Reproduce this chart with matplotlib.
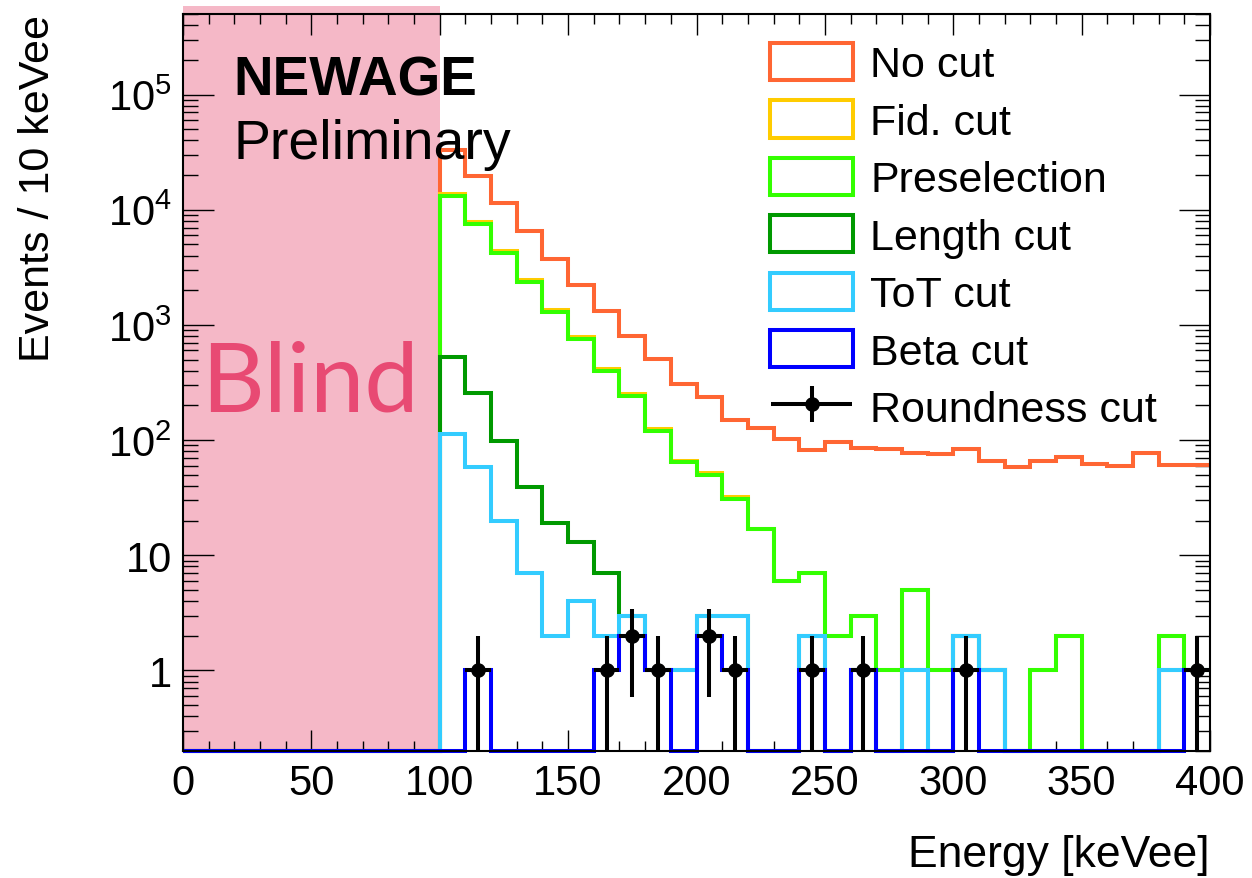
import numpy as np
import matplotlib
matplotlib.use("Agg")
import matplotlib.pyplot as plt
from matplotlib.patches import Patch
from matplotlib.container import ErrorbarContainer
from matplotlib.legend_handler import HandlerErrorbar
from matplotlib.ticker import FixedLocator, FixedFormatter, MultipleLocator

plt.rcParams['font.family'] = ['Liberation Sans', 'DejaVu Sans']
plt.rcParams['mathtext.fontset'] = 'custom'
plt.rcParams['mathtext.rm'] = 'Liberation Sans'
plt.rcParams['mathtext.it'] = 'Liberation Sans:italic'
plt.rcParams['mathtext.bf'] = 'Liberation Sans:bold'

# 10 keVee bins from 0 to 400; everything below 100 keVee is blind (empty)
edges = np.arange(0, 410, 10)
n_blind = 10

no_cut = [32900, 19600, 11400, 6540, 3770, 2230, 1320, 805, 505, 307,
          235, 150, 127, 102, 82, 97, 86, 83, 77, 76,
          83, 66, 58, 66, 72, 62, 60, 77, 61, 61]
fid_cut = [13700, 7880, 4420, 2430, 1335, 783, 416, 252, 126, 66,
           52, 32, 17, 6, 7, 2, 3, 1, 5, 1,
           2, 1, 0, 1, 2, 0, 0, 0, 2, 1]
preselection = [13150, 7570, 4250, 2335, 1283, 753, 400, 243, 121, 64,
                50, 31, 17, 6, 7, 2, 3, 1, 5, 1,
                2, 1, 0, 1, 2, 0, 0, 0, 2, 1]
length_cut = [530, 255, 99, 39, 19, 13, 7, 3, 1, 1,
              3, 3, 0, 0, 2, 0, 1, 0, 1, 0,
              2, 1, 0, 0, 0, 0, 0, 0, 1, 1]
tot_cut = [113, 58, 20, 7, 2, 4, 2, 3, 1, 1,
           3, 3, 0, 0, 2, 0, 1, 0, 1, 0,
           2, 1, 0, 0, 0, 0, 0, 0, 1, 1]
beta_cut = [0, 1, 0, 0, 0, 0, 1, 2, 1, 0,
            2, 1, 0, 0, 1, 0, 1, 0, 0, 0,
            1, 0, 0, 0, 0, 0, 0, 0, 0, 1]
roundness_cut = [0, 1, 0, 0, 0, 0, 1, 2, 1, 0,
                 2, 1, 0, 0, 1, 0, 1, 0, 0, 0,
                 1, 0, 0, 0, 0, 0, 0, 0, 0, 1]

labels = ['No cut', 'Fid. cut', 'Preselection', 'Length cut', 'ToT cut', 'Beta cut']
colors = ['#ff6633', '#ffcc00', '#33ff00', '#009900', '#33ccff', '#0000ff']
hists = [no_cut, fid_cut, preselection, length_cut, tot_cut, beta_cut]

ymin, ymax = 0.2, 5e5
W, H = 1252, 879

fig = plt.figure(figsize=(W / 100, H / 100), dpi=100)
ax = fig.add_axes([183 / W, 1 - 752 / H, (1210 - 183) / W, (752 - 15) / H])
ax.set_yscale('log')

# blind region, a bit taller than the frame
ax.axvspan(0, 100, ymin=0, ymax=1.011, color='#f5b8c7', lw=0, zorder=1, clip_on=False)

lw = 2.9
handles = []
for vals, c, lab in zip(hists, colors, labels):
    counts = np.concatenate([np.zeros(n_blind), np.asarray(vals, float)])
    # empty bins sit on the floor of the log axis, like ROOT does
    shown = np.where(counts > 0, counts, ymin)
    ax.stairs(shown, edges, baseline=None, color=c, lw=lw, zorder=3, clip_on=False)
    handles.append(Patch(facecolor='none', edgecolor=c, linewidth=lw))

# surviving events with Poisson errors
rc = np.concatenate([np.zeros(n_blind), np.asarray(roundness_cut, float)])
centers = 0.5 * (edges[:-1] + edges[1:])
sel = rc > 0
eb = ax.errorbar(centers[sel], rc[sel], yerr=np.sqrt(rc[sel]), xerr=5,
                 fmt='o', color='black', ms=9.5, elinewidth=2.9, capsize=0, zorder=4)
handles.append(eb)

ax.set_xlim(0, 400)
ax.set_ylim(ymin, ymax)

# ticks inside on all four sides
ax.xaxis.set_major_locator(MultipleLocator(50))
ax.xaxis.set_minor_locator(MultipleLocator(10))
decades = [1, 10, 1e2, 1e3, 1e4, 1e5]
ax.yaxis.set_major_locator(FixedLocator(decades))
ax.yaxis.set_major_formatter(FixedFormatter(['1', '10', r'$10^{2}$', r'$10^{3}$',
                                             r'$10^{4}$', r'$10^{5}$']))
minors = [m * 10.0 ** k for k in range(-1, 6) for m in range(2, 10)]
ax.yaxis.set_minor_locator(FixedLocator([v for v in minors if ymin <= v <= ymax]))
ax.tick_params(which='both', direction='in', top=True, right=True, width=1.0,
               labelsize=30, colors='black')
ax.tick_params(axis='x', which='major', length=15, pad=9)
ax.tick_params(axis='x', which='minor', length=7.5)
ax.tick_params(axis='y', which='major', length=22, pad=8)
ax.tick_params(axis='y', which='minor', length=11)
for s in ax.spines.values():
    s.set_linewidth(1.5)
    s.set_zorder(5)

ax.set_xlabel('Energy [keVee]', fontsize=32, loc='right')
ax.xaxis.set_label_coords(1.0, -0.112)
ax.set_ylabel('Events / 10 keVee', fontsize=31, loc='top')
ax.yaxis.set_label_coords(-0.122, 1.0)

ax.text(7.0, 179, 'Blind', fontsize=70, color='#e84a73', family=['Lato', 'Liberation Sans'],
        ha='left', va='baseline', zorder=2)
fig.text(233 / W, 1 - 96 / H, 'NEWAGE', fontsize=39.5, fontweight='bold',
         ha='left', va='baseline')
fig.text(233 / W, 1 - 159 / H, 'Preliminary', fontsize=40, ha='left', va='baseline')

leg = ax.legend(handles, labels + ['Roundness cut'], loc='upper left',
                bbox_to_anchor=(770 / W, 1 - 44 / H), bbox_transform=fig.transFigure,
                frameon=False, fontsize=31, handlelength=1.93, handleheight=0.95,
                handletextpad=0.4, labelspacing=0.35, borderpad=0, borderaxespad=0,
                handler_map={ErrorbarContainer: HandlerErrorbar(xerr_size=0.95,
                                                                yerr_size=0.42)})
leg.set_zorder(6)

fig.savefig('out.png', dpi=100)
